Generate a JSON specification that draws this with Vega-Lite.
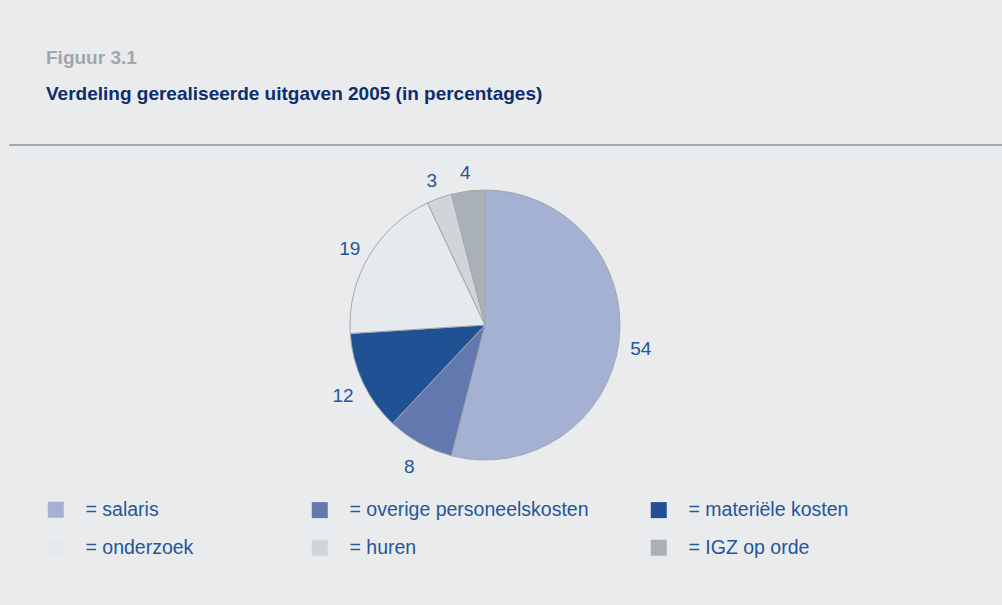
{
  "$schema": "https://vega.github.io/schema/vega-lite/v6.json",
  "background": "#eaebed",
  "padding": {"left": 8, "top": 48, "right": 0, "bottom": 60},
  "spacing": 0,
  "config": {
    "view": {"stroke": null},
    "font": "Liberation Sans",
    "legend": {
      "title": null,
      "orient": "none",
      "gridAlign": "each",
      "columnPadding": 60,
      "rowPadding": 17,
      "symbolType": "square",
      "symbolSize": 256,
      "symbolStrokeWidth": 0,
      "labelOffset": 20,
      "labelFont": "Liberation Sans",
      "labelFontSize": 19.5,
      "labelColor": "#23569b",
      "labelLimit": 400
    }
  },
  "vconcat": [
    {
      "width": 994,
      "height": 1,
      "view": {"stroke": "#a3a8ad", "strokeWidth": 1},
      "title": {
        "text": "Figuur 3.1",
        "subtitle": "Verdeling gerealiseerde uitgaven 2005 (in percentages)",
        "anchor": "start",
        "dx": 37,
        "offset": 40,
        "font": "Liberation Sans",
        "fontSize": 19,
        "fontWeight": "bold",
        "color": "#9fa6ac",
        "subtitleFont": "Liberation Sans",
        "subtitleFontSize": 19,
        "subtitleFontWeight": "bold",
        "subtitleColor": "#0d2d6d",
        "subtitlePadding": 17
      },
      "data": {"values": []},
      "mark": "point"
    },
    {
      "width": 952,
      "height": 358,
      "data": {
        "values": [
          {"post": "salaris", "pct": 54, "nr": 1},
          {"post": "overige personeelskosten", "pct": 8, "nr": 2},
          {"post": "materiële kosten", "pct": 12, "nr": 3},
          {"post": "onderzoek", "pct": 19, "nr": 4},
          {"post": "huren", "pct": 3, "nr": 5},
          {"post": "IGZ op orde", "pct": 4, "nr": 6}
        ]
      },
      "resolve": {"scale": {"color": "independent"}, "legend": {"color": "independent"}},
      "layer": [
        {
          "mark": {"type": "arc", "outerRadius": 135, "stroke": "#a3a8ad", "strokeWidth": 1},
          "encoding": {
            "theta": {"field": "pct", "type": "quantitative", "stack": true},
            "order": {"field": "nr", "type": "quantitative"},
            "color": {
              "field": "post",
              "type": "nominal",
              "scale": {
                "domain": ["salaris", "overige personeelskosten", "materiële kosten", "onderzoek", "huren", "IGZ op orde"],
                "range": ["#a5b1d3", "#6478b0", "#215195", "#e6e9ed", "#d0d5d9", "#a9b0b7"]
              },
              "legend": {
                "values": ["salaris", "onderzoek"],
                "legendX": 37,
                "legendY": 354,
                "labelExpr": "'= ' + datum.label"
              }
            }
          }
        },
        {
          "mark": {"type": "text", "radius": 157, "dy": 4, "fontSize": 19, "font": "Liberation Sans", "align": "center", "baseline": "middle"},
          "encoding": {
            "theta": {"field": "pct", "type": "quantitative", "stack": true},
            "order": {"field": "nr", "type": "quantitative"},
            "text": {"field": "pct", "type": "quantitative"},
            "color": {
              "condition": {"test": "true", "value": "#23569b"},
              "field": "post",
              "type": "nominal",
              "scale": {
                "domain": ["salaris", "overige personeelskosten", "materiële kosten", "onderzoek", "huren", "IGZ op orde"],
                "range": ["#a5b1d3", "#6478b0", "#215195", "#e6e9ed", "#d0d5d9", "#a9b0b7"]
              },
              "legend": {
                "values": ["overige personeelskosten", "huren", "materiële kosten", "IGZ op orde"],
                "columns": 2,
                "legendX": 301,
                "legendY": 354,
                "labelExpr": "'= ' + datum.label"
              }
            }
          }
        }
      ]
    }
  ]
}
